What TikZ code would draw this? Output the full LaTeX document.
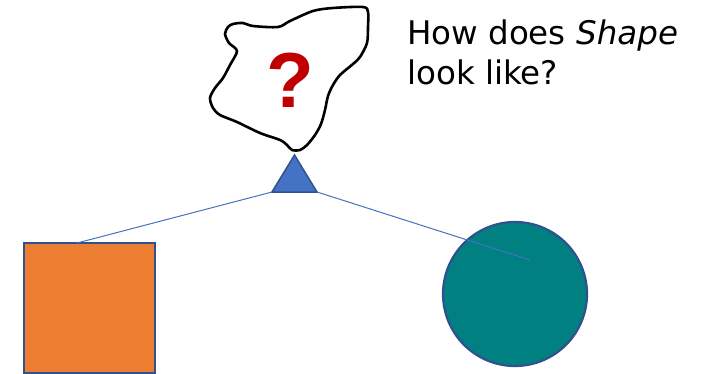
\documentclass[tikz,border=0pt]{standalone}
\usepackage{fontspec}
\newfontfamily\djv{DejaVu Sans}
\newfontfamily\lsb{Liberation Sans}
\usetikzlibrary{shapes.geometric}
\definecolor{ppblue}{HTML}{4472C4}
\definecolor{ppdark}{HTML}{2F528F}
\definecolor{pporange}{HTML}{ED7D31}
\definecolor{ppteal}{HTML}{008080}
\definecolor{ppred}{HTML}{C00000}
\tikzset{
  shapebox/.style={draw=ppdark, line width=2.2pt, inner sep=0pt},
  link/.style={draw=ppblue, line width=1pt},
  txt/.style={font=\djv\fontsize{32.5}{40}\selectfont, inner sep=0pt, anchor=base west},
}
\begin{document}
\begin{tikzpicture}[x=1pt,y=-1pt]
\path[use as bounding box, fill=white] (0,0) rectangle (708,374);
% blob
\draw[line width=2.6pt, line join=round] plot[smooth cycle, tension=0.5] coordinates {
(228,27) (233,24) (243,23) (253,26) (278,27) (290,21) (313,11) (333,8) (363,7) (368,12) (368,27) (367,43) (360,57) (353,64) (340,75) (333,85) (328,96) (325,110) (321,124) (315,135) (307,145) (300,150) (292,150) (287,145) (280,140) (260,133) (237,122) (220,115) (213,108) (210,98) (215,88) (223,78) (230,65) (237,51) (229,43) (225,34)};
\node[text=ppred, font=\lsb\bfseries\fontsize{78}{80}\selectfont, inner sep=0pt] (q) at (290,80) {?};
% text
\node[txt] (t1) at (407,45) {How does \textit{Shape}};
\node[txt] (t2) at (407,85) {look like?};
% shapes
\node[shapebox, fill=pporange, minimum width=131pt, minimum height=130pt] (sq) at (89.5,308) {};
\node[shapebox, fill=ppteal, circle, minimum size=144pt] (ci) at (515,294) {};
% triangle
\coordinate (tl) at (272,192);
\coordinate (tr) at (317,192);
\coordinate (tt) at (294.5,155);
\draw[draw=ppdark, fill=ppblue, line width=1.5pt, line join=miter] (tl) -- (tt) -- (tr) -- cycle;
% connectors
\coordinate (sqtop) at (77,243);
\coordinate (cend) at (530,260);
\draw[link] (tl) -- (sqtop);
\draw[link] (tr) -- (cend);
\end{tikzpicture}
\end{document}
